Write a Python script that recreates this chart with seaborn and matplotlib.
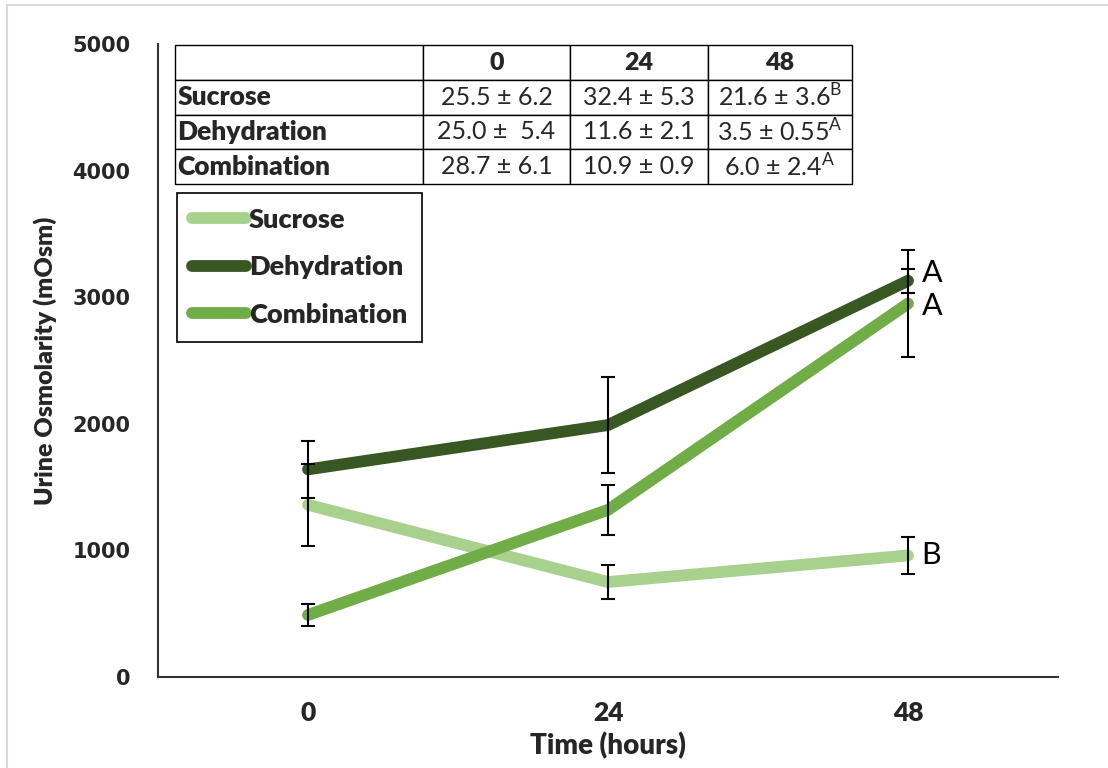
import pandas as pd
import numpy as np
import matplotlib
matplotlib.use("Agg")
import matplotlib.pyplot as plt
import seaborn as sns
from matplotlib.lines import Line2D

sns.set_theme(style="white")
plt.rcParams["font.family"] = ["Lato", "DejaVu Sans"]
plt.rcParams["mathtext.fontset"] = "custom"
plt.rcParams["mathtext.rm"] = "Lato"
plt.rcParams["mathtext.bf"] = "Lato:bold"

# --- data ---
time_labels = ["0", "24", "48"]
groups = ["Sucrose", "Dehydration", "Combination"]
sucrose = [1360, 750, 960]
dehydration = [1640, 1990, 3130]
combination = [490, 1320, 2950]
sucrose_err = [325, 135, 145]
dehydration_err = [225, 380, 95]
combination_err = [87, 195, 425]
sig_letters = ["B", "A", "A"]
letter_nudge = [0, 60, -20]

table_cols = ["", "0", "24", "48"]
table_rows = [
    ["Sucrose", "25.5 ± 6.2", "32.4 ± 5.3", "21.6 ± 3.6$^{\\mathrm{B}}$"],
    ["Dehydration", "25.0 ±  5.4", "11.6 ± 2.1", "3.5 ± 0.55$^{\\mathrm{A}}$"],
    ["Combination", "28.7 ± 6.1", "10.9 ± 0.9", "6.0 ± 2.4$^{\\mathrm{A}}$"],
]

colors = {"Sucrose": "#A9D18E", "Dehydration": "#385723", "Combination": "#70AD47"}

values = {"Sucrose": sucrose, "Dehydration": dehydration, "Combination": combination}
errors = {"Sucrose": sucrose_err, "Dehydration": dehydration_err, "Combination": combination_err}

df = pd.DataFrame(
    [(i, values[g][i], g) for g in groups for i in range(len(time_labels))],
    columns=["time", "osm", "group"],
)

fig = plt.figure(figsize=(11.08, 7.68), dpi=100)
ax = fig.add_axes([0.1426, 0.1185, 0.8123, 0.8242])

sns.lineplot(data=df, x="time", y="osm", hue="group", hue_order=groups,
             palette=colors, linewidth=8.5, errorbar=None, legend=False, ax=ax,
             solid_capstyle="round")

for g in groups:
    ax.errorbar(range(len(time_labels)), values[g], yerr=errors[g], fmt="none",
                ecolor="black", elinewidth=1.5, capsize=5, capthick=1.5, zorder=5)

# significance letters at 48 h
for g, letter, dy in zip(groups, sig_letters, letter_nudge):
    y = values[g][-1] + dy
    ax.text(2.045, y, letter, fontsize=22, va="center", ha="left", color="black")

ax.set_xlim(-0.5, 2.5)
ax.set_ylim(0, 5000)
ax.set_yticks(range(0, 5001, 1000))
ax.set_xticks(range(len(time_labels)))
ax.set_xticklabels(time_labels, fontsize=19, fontweight="heavy")
ax.set_yticklabels([str(v) for v in range(0, 5001, 1000)],
                   fontsize=15, fontweight="bold", family="DejaVu Sans")
ax.tick_params(axis="both", length=0)
ax.tick_params(axis="y", pad=20)
ax.tick_params(axis="x", pad=17)
ax.set_xlabel("Time (hours)", fontsize=20, fontweight="heavy", labelpad=5)
ax.set_ylabel("Urine Osmolarity (mOsm)", fontsize=18, fontweight="heavy", labelpad=11)
for s in ["top", "right"]:
    ax.spines[s].set_visible(False)
for s in ["left", "bottom"]:
    ax.spines[s].set_color("#333333")
    ax.spines[s].set_linewidth(1.5)

# legend
handles = [Line2D([0], [0], color=colors[g], lw=8.5, solid_capstyle="round") for g in groups]
leg = ax.legend(handles, groups, loc="upper left", bbox_to_anchor=(0.021, 0.765),
                borderaxespad=0, frameon=True, fancybox=False, edgecolor="black",
                framealpha=1, prop={"weight": "heavy", "size": 19.5}, handlelength=2.0,
                handletextpad=0.1, labelspacing=0.87, borderpad=0.55)
leg.get_frame().set_linewidth(1.2)

# table
tbl = ax.table(cellText=table_rows, colLabels=table_cols,
               bbox=[0.019, 0.779, 0.752, 0.219],
               colWidths=[248, 147, 138, 144], cellLoc="center")
tbl.auto_set_font_size(False)
tbl.set_fontsize(18)
for (r, c), cell in tbl.get_celld().items():
    cell.set_edgecolor("black")
    cell.set_linewidth(1)
    txt = cell.get_text()
    if r == 0 or c == 0:
        txt.set_fontweight("heavy")
    if c == 0:
        txt.set_ha("left")
        txt.set_fontsize(19)
        cell.PAD = 0.01

# light grey outer border
fig.add_artist(Line2D([0.0063, 1.0], [0.9935, 0.9935], color="#d9d9d9", lw=1.5))
fig.add_artist(Line2D([0.0063, 0.0063], [0.0, 0.9935], color="#d9d9d9", lw=1.5))

fig.savefig("out.png", dpi=100)
